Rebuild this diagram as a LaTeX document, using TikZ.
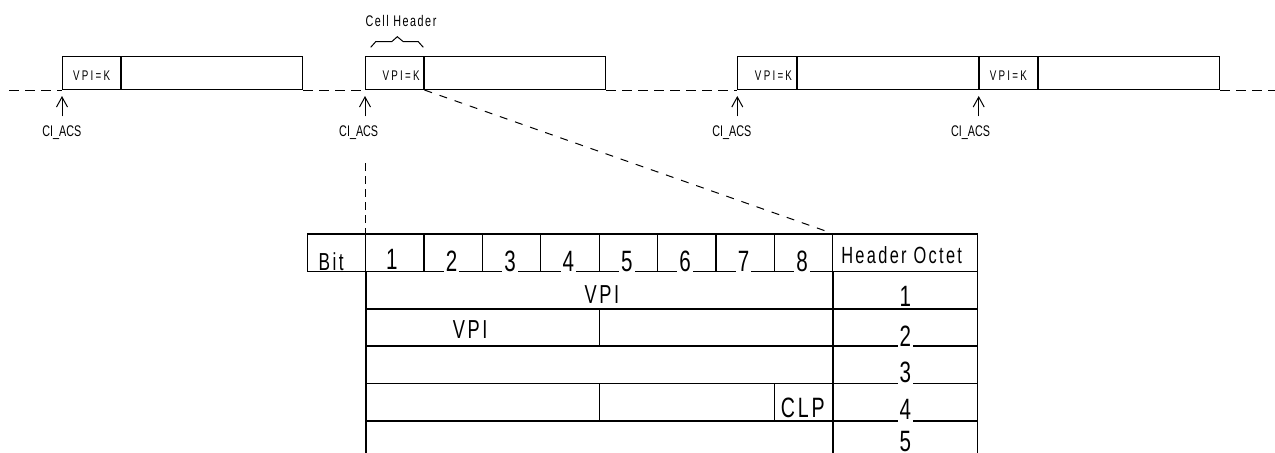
\documentclass[tikz,border=0pt]{standalone}
\usepackage{fontspec}
\usepackage{tikz}
\usetikzlibrary{arrows.meta}
\usetikzlibrary{positioning}
\newfontfamily\narrowfont[FakeStretch=0.7]{Liberation Sans}
\newfontfamily\trackfont[FakeStretch=0.7,LetterSpace=10]{Liberation Sans}
\newfontfamily\wideboxfont[FakeStretch=0.7,LetterSpace=16]{Liberation Sans}

\tikzset{
  cellbox/.style={rectangle, draw, line width=0.5pt, minimum height=16.4pt, inner sep=0pt},
  hdrbox/.style={cellbox, minimum width=29.2pt, text height=7.3pt, text depth=0pt, font=\wideboxfont\fontsize{7}{8}\selectfont},
  hdrboxR/.style={hdrbox, text width=25pt, align=right},
  paybox/.style={cellbox, minimum width=90.5pt},
  cilabel/.style={font=\narrowfont\fontsize{7.7}{9}\selectfont, anchor=base, inner xsep=0pt, inner ysep=4.2pt, text depth=0pt},
  ciarrow/.style={-{Straight Barb[length=5pt,width=5.5pt]}, line width=0.5pt, shorten >=3pt},
  dashline/.style={dash pattern=on 5pt off 3pt, line width=0.5pt},
  bitcell/.style={rectangle, draw, line width=0.6pt, minimum height=18.7pt, inner sep=0pt, anchor=north west},
  fieldcell/.style={rectangle, draw, line width=0.8pt, minimum height=18.65pt, inner sep=0pt, anchor=north west},
  tabtext/.style={font=\trackfont\fontsize{13}{15}\selectfont, inner sep=0pt, anchor=base},
  digit/.style={font=\narrowfont\fontsize{14.7}{17}\selectfont, inner xsep=1pt, inner ysep=1pt, anchor=base},
  cutdigit/.style={digit, fill=white}
}

\begin{document}
\begin{tikzpicture}[x=0.5pt, y=-0.5pt]
\useasboundingbox (0,0) rectangle (1275,452);
\clip (0,0) rectangle (1275,452);

\node[hdrbox, anchor=south west] (H1) at (62,90) {VPI=K};
\node[paybox, right=0pt of H1] (P1) {};
\node[hdrboxR, anchor=south west] (H2) at (365,90) {VPI=K};
\node[paybox, right=0pt of H2] (P2) {};
\node[hdrboxR, anchor=south west] (H3) at (737.3,90) {VPI=K};
\node[paybox, right=0pt of H3] (P3) {};
\node[hdrbox, right=0pt of P3] (H4) {VPI=K};
\node[paybox, right=0pt of H4] (P4) {};

\coordinate (lstart) at (9,90);
\coordinate (lend) at (1275,90);
\draw[dashline] (lstart) -- (H1.south west);
\draw[dashline] (P1.south east) -- (H2.south west);
\draw[dashline] (P2.south east) -- (H3.south west);
\draw[dashline] (P4.south east) -- (lend);

\node[cilabel] (C1) at (61.8,136) {CI\_ACS};
\node[cilabel] (C2) at (358.7,136) {CI\_ACS};
\node[cilabel] (C3) at (731.8,136) {CI\_ACS};
\node[cilabel] (C4) at (970.5,136) {CI\_ACS};
\foreach \n in {1,...,4}
  \draw[ciarrow] (C\n.north -| H\n.south west) -- (H\n.south west);

\node[font=\trackfont\fontsize{7.7}{9}\selectfont, inner sep=0pt] (cellhdr) at (401,20.7) {Cell Header};
\draw[line width=0.5pt] (370.7,47.3) -- (375.7,41.7) -- (391.7,41.7) -- (397.3,36.7) -- (403.3,41.7) -- (418.3,41.7) -- (423.3,47.3);

\node[bitcell, minimum width=29.15pt] (bit) at (306.7,233.3) {};
\foreach \i in {1,...,8}
  \node[bitcell, minimum width=29.2pt] (col\i) at ({365+(\i-1)*58.4},233.3) {};
\node[bitcell, minimum width=72.25pt] (octet) at (832.2,233.3) {};

\node[fieldcell, minimum width=233.6pt] (r1) at (365,270.7) {};
\node[fieldcell, minimum width=116.8pt] (r2a) at (365,308) {};
\node[fieldcell, minimum width=116.8pt] (r2b) at (598.6,308) {};
\node[fieldcell, minimum width=233.6pt] (r3) at (365,345.3) {};
\node[fieldcell, minimum width=116.8pt] (r4a) at (365,382.6) {};
\node[fieldcell, minimum width=87.6pt] (r4b) at (598.6,382.6) {};
\node[fieldcell, minimum width=29.2pt] (r4c) at (773.8,382.6) {};
\node[fieldcell, minimum width=233.6pt] (r5) at (365,419.9) {};
\foreach \k/\y in {1/270.7,2/308,3/345.3,4/382.6,5/419.9}
  \node[fieldcell, minimum width=72.25pt] (o\k) at (832.2,\y) {};

\draw[dashline, dash pattern=on 4pt off 4pt, shorten >=3.3pt] (H2.south east) -- (octet.north west);
\coordinate (vtop) at (365,163);
\draw[dashline, dash pattern=on 4pt off 2.5pt] (vtop) -- (col1.north west);

\node[tabtext, anchor=base west, font=\trackfont\fontsize{12.3}{14}\selectfont] (bitlbl) at ([xshift=5.8pt,yshift=0.7pt]bit.south west) {Bit};
\node[digit] (d1) at ([xshift=-1.5pt,yshift=1.2pt]col1.south) {1};
\foreach \i in {2,...,8}
  \node[cutdigit] (d\i) at ([xshift=-0.8pt,yshift=0.35pt]col\i.south) {\i};
\node[tabtext, font=\trackfont\fontsize{11.7}{14}\selectfont] (octlbl) at ([xshift=-1.7pt,yshift=4pt]octet.south) {Header Octet};

\node[tabtext] (vpi1) at ([xshift=1.2pt,yshift=3.2pt]r1.south) {VPI};
\node[tabtext] (vpi2) at ([xshift=-6.2pt,yshift=4.3pt]r2a.south) {VPI};
\node[tabtext, font=\trackfont\fontsize{14}{16}\selectfont] (clp) at ([xshift=-0.5pt,yshift=2pt]r4c.south) {CLP};

\node[digit] (n1) at ([yshift=1.5pt]o1.south) {1};
\node[cutdigit, inner ysep=1.5pt] (n2) at ([yshift=0.4pt]o2.south) {2};
\node[cutdigit, inner ysep=1.5pt] (n3) at ([yshift=0.8pt]o3.south) {3};
\node[cutdigit, inner ysep=1.5pt] (n4) at ([yshift=1pt]o4.south) {4};
\node[digit, inner sep=0pt] (n5) at ([yshift=3.6pt]o5.south) {5};
\end{tikzpicture}
\end{document}
